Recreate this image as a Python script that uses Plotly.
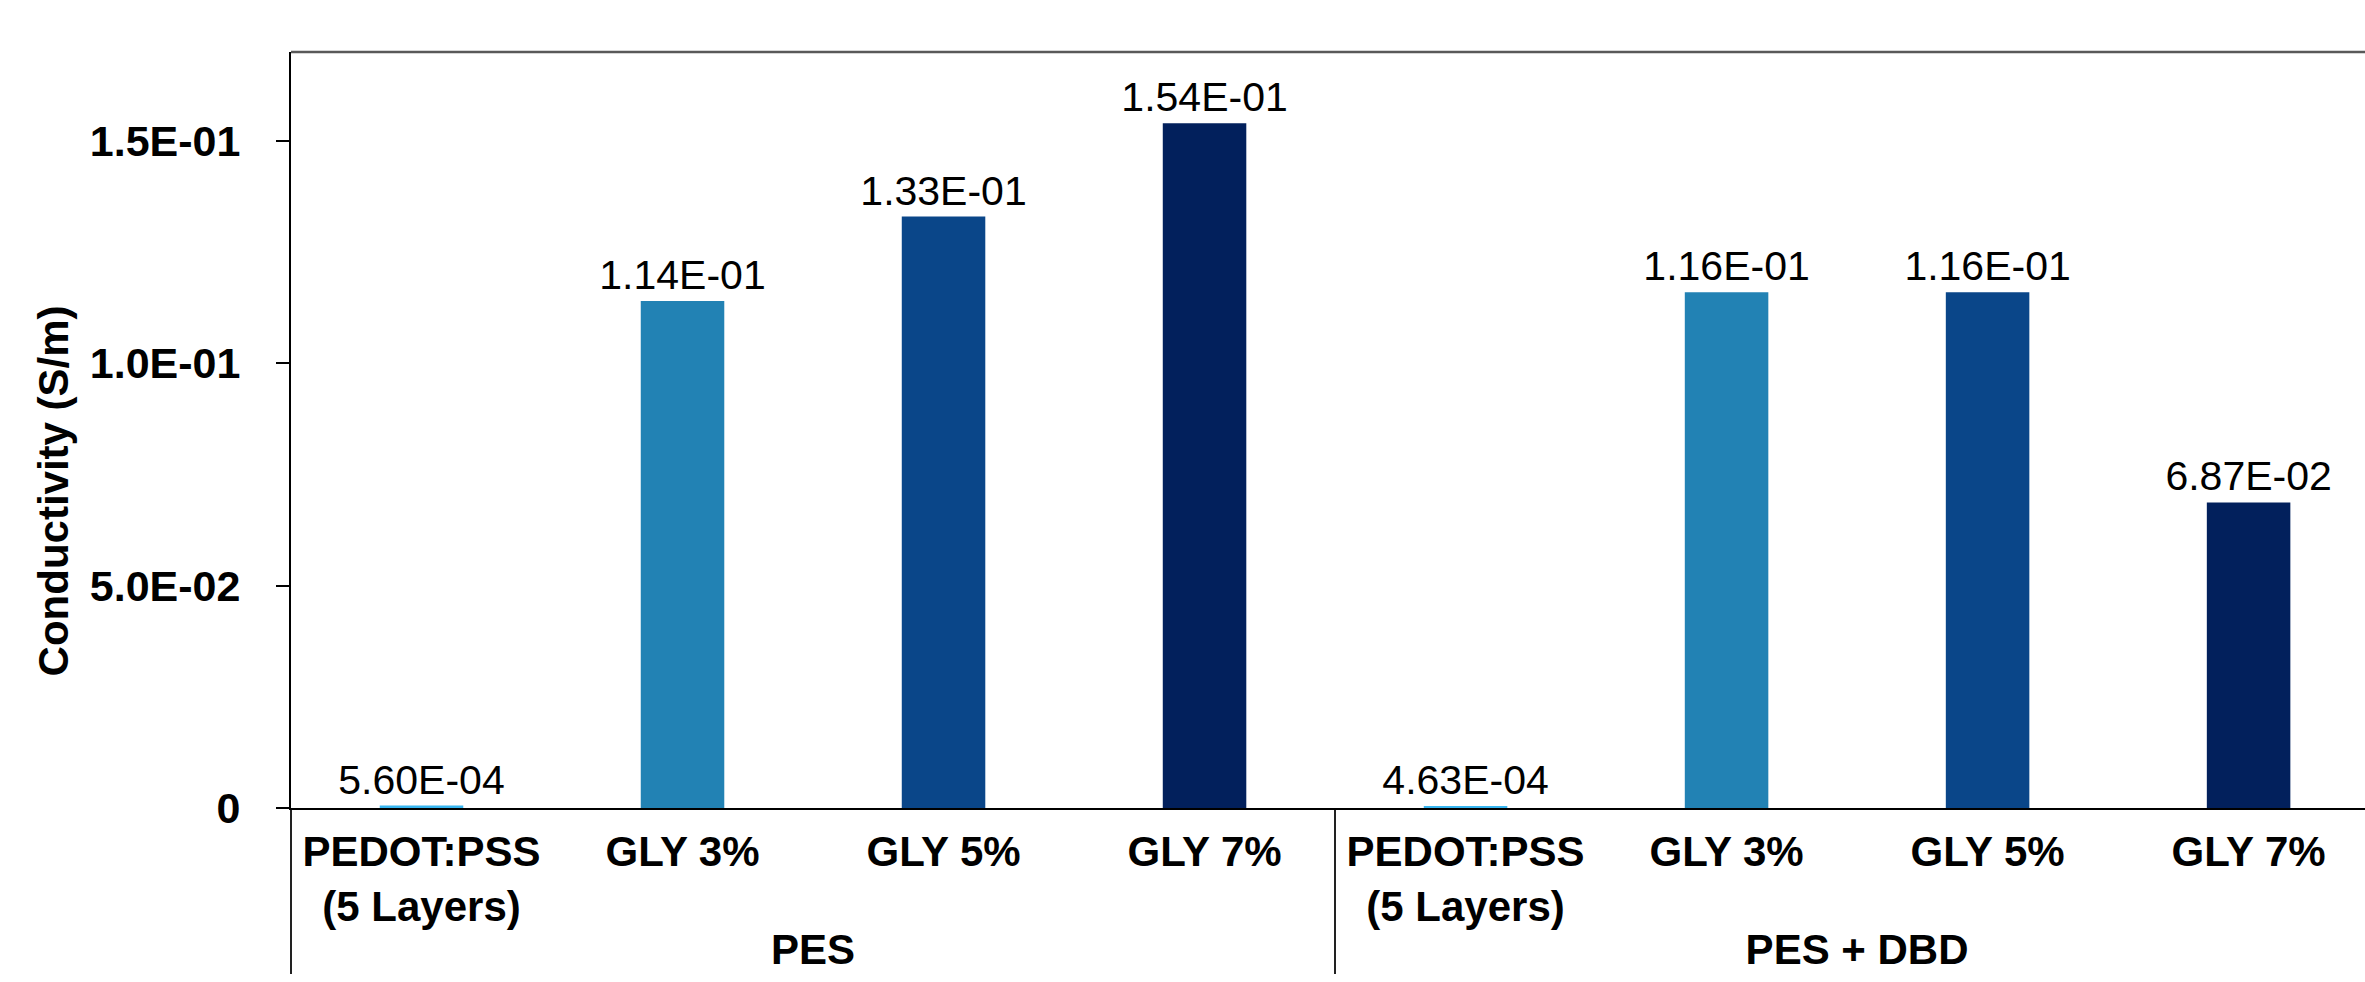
import plotly.graph_objects as go

groups = ["PES"] * 4 + ["PES + DBD"] * 4
categories = ["PEDOT:PSS<br>(5 Layers)", "GLY 3%", "GLY 5%", "GLY 7%"] * 2
values = [5.60e-4, 1.14e-1, 1.33e-1, 1.54e-1, 4.63e-4, 1.16e-1, 1.16e-1, 6.87e-2]
colors = ["#38B6F0", "#2282B4", "#0A4689", "#02205C"] * 2
ytick_vals = [0, 0.05, 0.10, 0.15]
ytick_text = ["0", "5.0E-02", "1.0E-01", "1.5E-01"]
y_title = "Conductivity (S/m)"

FONT = "Liberation Sans, Arial, sans-serif"

labels = [f"{v:.2E}" for v in values]

fig = go.Figure()
fig.add_trace(go.Bar(
    x=[groups, categories],
    y=values,
    width=0.32,
    marker=dict(color=colors, line=dict(width=0)),
    text=labels,
    textposition="outside",
    constraintext="none",
    textfont=dict(family=FONT, size=41, color="black"),
    cliponaxis=False,
    showlegend=False,
))

fig.update_layout(
    width=2365,
    height=982,
    margin=dict(l=291, r=0, t=52, b=174),
    paper_bgcolor="white",
    plot_bgcolor="white",
    font=dict(family=FONT, color="black"),
    uniformtext=dict(mode=False),
    xaxis=dict(
        type="multicategory",
        range=[-0.5, 7.446],
        showline=True,
        linecolor="black",
        linewidth=2,
        ticks="",
        showgrid=False,
        zeroline=False,
        showdividers=True,
        dividercolor="#222222",
        dividerwidth=2,
        ticklabelstandoff=6,
        tickfont=dict(family=FONT, size=42, color="black", weight="bold"),
    ),
    yaxis=dict(
        range=[0, 0.17],
        tickvals=ytick_vals,
        ticktext=ytick_text,
        ticks="outside",
        ticklen=13,
        tickwidth=2,
        tickcolor="black",
        showline=True,
        linecolor="black",
        linewidth=2,
        showgrid=False,
        zeroline=False,
        ticklabelstandoff=27,
        tickfont=dict(family=FONT, size=43, color="black", weight="bold"),
    ),
    annotations=[dict(
        text=y_title,
        xref="paper", yref="paper",
        x=-0.1143, y=0.42,
        xanchor="center", yanchor="middle",
        textangle=-90,
        showarrow=False,
        font=dict(family=FONT, size=42, color="black", weight="bold"),
    )],
    shapes=[dict(
        type="line", xref="paper", yref="paper",
        x0=0, x1=1, y0=1, y1=1,
        line=dict(color="#595959", width=2.5),
    )],
)

fig.write_html("out.html")
